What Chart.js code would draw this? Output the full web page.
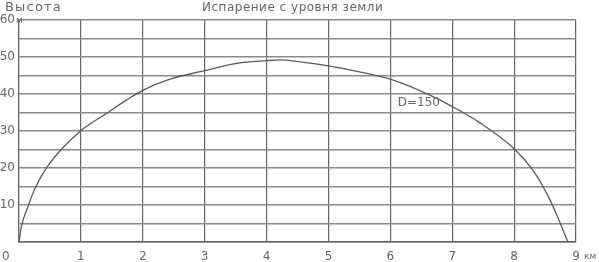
<!DOCTYPE html>
<html>
<head>
<meta charset="utf-8">
<script src="https://cdn.jsdelivr.net/npm/chart.js@4.4.1/dist/chart.umd.min.js"></script>
<style>
  body { margin: 0; background: #fff; }
  #wrap { width: 599px; height: 262px; position: relative; }
</style>
</head>
<body>
<div id="wrap"><canvas id="myChart"></canvas></div>
<script>
// distance from source, km
const distanceKm = [0, 0.04, 0.15, 0.26, 0.42, 0.66, 1.0, 1.42, 1.74, 2.0, 2.44, 3.0, 3.52, 4.0, 4.22, 4.54, 5.0, 5.5, 6.0, 6.69, 7.0, 7.45, 8.0, 8.3, 8.55, 8.74, 8.87];
// plume height, m
const heightM = [0, 4.3, 9.8, 14.5, 19.4, 24.6, 30.1, 34.8, 38.4, 41, 44, 46.3, 48.3, 49, 49.2, 48.7, 47.6, 46, 44, 39.3, 36.6, 32.2, 25.2, 19.5, 12.4, 5.3, 0];

const xTicks = [0, 1, 2, 3, 4, 5, 6, 7, 8, 9];
const yLabelTicks = [10, 20, 30, 40, 50, 60];

const titleText = "Испарение с уровня земли";
const yAxisName = "Высота";
const curveLabel = "D=150";

const textColor = "#666";
const font = "DejaVu Sans";

const labelsPlugin = {
  id: "labels",
  afterDraw(chart) {
    const ctx = chart.ctx;
    const xs = chart.scales.x;
    const ys = chart.scales.y;
    ctx.save();
    ctx.fillStyle = textColor;
    ctx.textBaseline = "middle";
    ctx.textAlign = "left";

    ctx.font = `13px "${font}"`;
    ctx.letterSpacing = "1.2px";
    ctx.fillText(yAxisName, 5, 8);
    ctx.font = `12px "${font}"`;
    ctx.letterSpacing = "0.5px";
    ctx.fillText(titleText, 202, 8);

    ctx.letterSpacing = "0px";
    ctx.fillText("0", 2, 257);
    ctx.font = `9px "${font}"`;
    ctx.fillText("м", 16, 21);
    ctx.fillText("км", 584, 257);

    ctx.font = `12px "${font}"`;
    ctx.fillText(curveLabel, xs.getPixelForValue(6.12), ys.getPixelForValue(37.5));
    ctx.restore();
  }
};

const ctx = document.getElementById("myChart").getContext("2d");
const chart = new Chart(ctx, {
  type: "line",
  data: {
    datasets: [{
      data: distanceKm.map((d, i) => ({ x: d, y: heightM[i] })),
      borderColor: "#5a5a5a",
      borderWidth: 1.3,
      pointRadius: 0,
      cubicInterpolationMode: "monotone",
      fill: false
    }]
  },
  options: {
    responsive: true,
    maintainAspectRatio: false,
    animation: false,
    layout: { padding: { top: 20, right: 23, left: 0, bottom: 0 } },
    plugins: {
      legend: { display: false },
      tooltip: { enabled: false }
    },
    scales: {
      x: {
        type: "linear",
        min: 0,
        max: 9,
        afterBuildTicks: (scale) => { scale.ticks = xTicks.map((v) => ({ value: v })); },
        afterFit: (scale) => { scale.height = 20; },
        grid: { color: "#666", lineWidth: 1.2, drawTicks: false },
        border: { color: "#666", width: 1.5 },
        ticks: {
          padding: 8,
          color: textColor,
          font: { family: font, size: 12 },
          maxRotation: 0,
          callback: (v) => (v === 0 ? "" : v)
        }
      },
      y: {
        type: "linear",
        min: 0,
        max: 60,
        afterFit: (scale) => { scale.width = 19; },
        grid: { color: "#8a8a8a", lineWidth: 1.6, drawTicks: false },
        border: { color: "#666", width: 1.2 },
        ticks: {
          stepSize: 5,
          padding: 4,
          color: textColor,
          font: { family: font, size: 12 },
          callback: (v) => (yLabelTicks.includes(v) ? v : "")
        }
      }
    }
  },
  plugins: [labelsPlugin]
});
</script>
</body>
</html>
